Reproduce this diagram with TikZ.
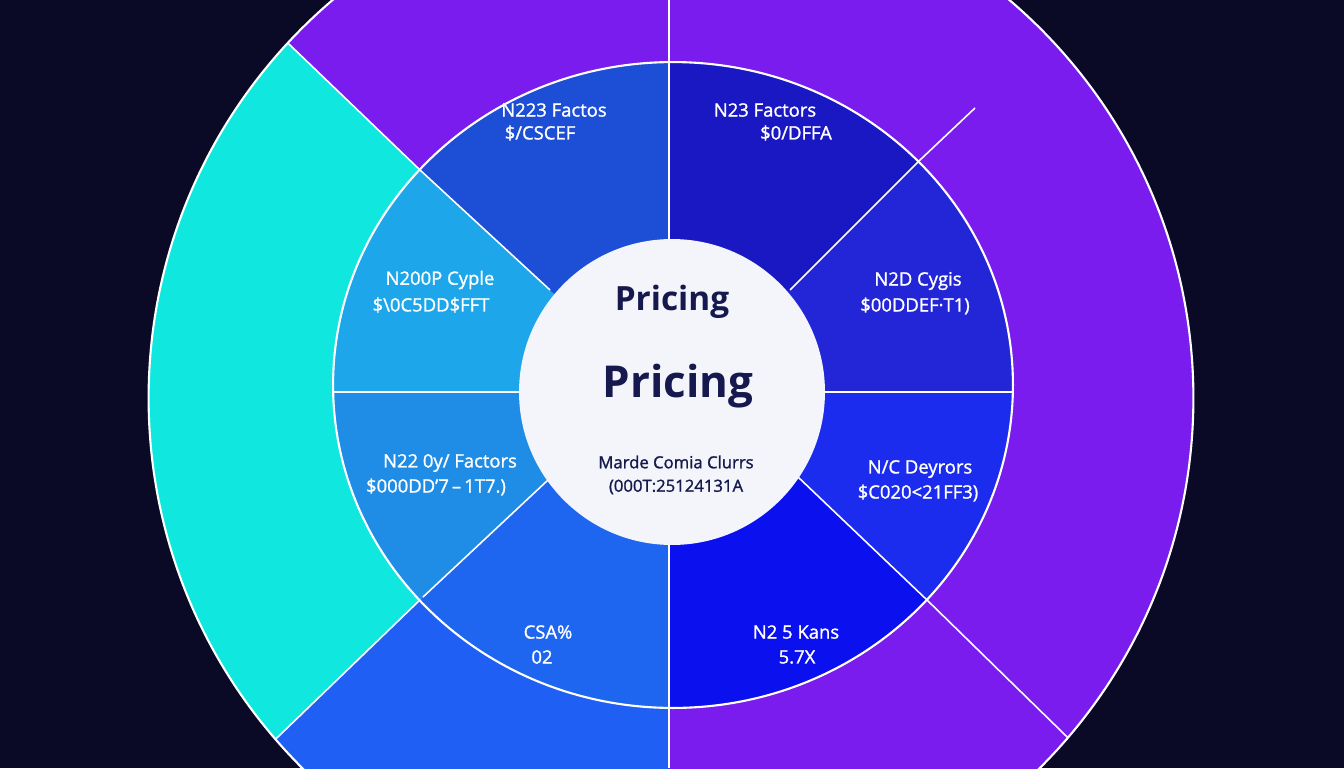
\documentclass[tikz,border=0pt]{standalone}
\usepackage{fontspec}
\setmainfont{Open Sans}
\newfontfamily\labelfont{Open Sans}[Ligatures=TeX, RawFeature={embolden=1.3}]
\usepackage{xcolor}
\usepackage{tikz}
\usetikzlibrary{calc, positioning}

\definecolor{bgnavy}{HTML}{0B0A26}
\definecolor{outpurple}{HTML}{7A1CEE}
\definecolor{outcyan}{HTML}{10E8DF}
\definecolor{outblue}{HTML}{1F5FF4}
\definecolor{segTL}{HTML}{1D4ED6}
\definecolor{segTR}{HTML}{1A18C2}
\definecolor{segRU}{HTML}{2326D6}
\definecolor{segRL}{HTML}{1C2CEE}
\definecolor{segBR}{HTML}{0A10EE}
\definecolor{segBL}{HTML}{1E66F0}
\definecolor{segLL}{HTML}{1F8CE6}
\definecolor{segLU}{HTML}{1DA6EA}
\definecolor{hubfill}{HTML}{F3F5FB}
\definecolor{hubtext}{HTML}{15194D}

\begin{document}
\begin{tikzpicture}[x=0.02cm, y=-0.02cm,
    seglabel/.style={text=white, inner sep=0pt, font=\labelfont\fontsize{10.5}{12}\selectfont},
    hubtitle/.style={text=hubtext, inner sep=0pt, font=\bfseries\fontsize{19}{22}\selectfont},
    hubnote/.style={text=hubtext, inner sep=0pt, font=\labelfont\fontsize{9.5}{11}\selectfont},
    divider/.style={draw=white, line width=0.9pt},
    rim/.style={draw=white, line width=1.2pt}
]
\fill[bgnavy] (0,0) rectangle (1344,768);
\useasboundingbox (0,0) rectangle (1344,768);

\coordinate (O) at (669,392);
\coordinate (ulIn) at (550,290); \coordinate (ulMid) at (420,170); \coordinate (ulOut) at (292,47);
\coordinate (urIn) at (790,290); \coordinate (urMid) at (920,160); \coordinate (urStub) at (975,108);
\coordinate (llIn) at (548,480); \coordinate (llMid) at (423,597); \coordinate (llOut) at (282,733);
\coordinate (lrIn) at (798,477); \coordinate (lrMid) at (927,600); \coordinate (lrOut) at (1060,730);
\coordinate (top) at (669,0); \coordinate (bot) at (669,768);
\coordinate (lft) at (333,392); \coordinate (rgt) at (1013,392);

% outer ring
\begin{scope}
\clip (671,398) circle [radius=10.45cm];
\fill[outpurple] (671,398) circle [radius=10.45cm];
\fill[outcyan] (ulMid) -- ($(ulMid)!6!(ulOut)$) -- (-700,392) -- ($(llMid)!6!(llOut)$) -- (llMid) -- cycle;
\fill[outblue] (O) -- (llMid) -- ($(llMid)!6!(llOut)$) -- (669,1500) -- cycle;
\draw[divider] (ulMid) -- ($(ulMid)!6!(ulOut)$);
\draw[divider] (llMid) -- ($(llMid)!6!(llOut)$);
\draw[divider] (lrMid) -- ($(lrMid)!6!(lrOut)$);
\draw[divider] (top) -- (bot);
\end{scope}
\draw[rim] (671,398) circle [radius=10.45cm];

% inner ring
\begin{scope}
\clip (673,385) ellipse [x radius=6.8cm, y radius=6.46cm];
\fill[segLU] (O) -- (ulIn) -- ($(ulIn)!6!(ulMid)$) -- (-700,392) -- cycle;
\fill[segTL] (O) -- (ulIn) -- ($(ulIn)!6!(ulMid)$) -- (669,-700) -- cycle;
\fill[segTR] (O) -- (669,-700) -- ($(urIn)!6!(urMid)$) -- (urIn) -- cycle;
\fill[segRU] (O) -- (urIn) -- ($(urIn)!6!(urMid)$) -- (2000,392) -- cycle;
\fill[segRL] (O) -- (2000,392) -- ($(lrIn)!6!(lrMid)$) -- (lrIn) -- cycle;
\fill[segBR] (O) -- (lrIn) -- ($(lrIn)!6!(lrMid)$) -- (669,1500) -- cycle;
\fill[segBL] (O) -- (669,1500) -- ($(llIn)!6!(llMid)$) -- (llIn) -- cycle;
\fill[segLL] (O) -- (llIn) -- ($(llIn)!6!(llMid)$) -- (-700,392) -- cycle;
\end{scope}
\draw[rim] (673,385) ellipse [x radius=6.8cm, y radius=6.46cm];

\draw[divider] (ulIn) -- (ulMid);
\draw[divider] (urIn) -- (urMid) -- (urStub);
\draw[divider] (llIn) -- (llMid);
\draw[divider] (lrIn) -- (lrMid);
\draw[divider] (lft) -- (rgt);
\draw[divider] (top) -- (bot);

% hub
\fill[hubfill] (672,392) circle [radius=3.06cm];
\node[hubtitle] (hubA) at (672,302) {Pricing};
\node[hubtitle, font=\bfseries\fontsize{25}{28}\selectfont] (hubB) at (678,386) {Pricing};
\node[hubnote] (hubC) at (676,462) {Marde Comia Clurrs};
\node[hubnote] (hubD) at (676,487) {(000T:25124131A};

% segment labels
\node[seglabel] (tlA) at (554,110) {N223 Factos};
\node[seglabel] (tlB) at (540,133) {\$/CSCEF};
\node[seglabel] (trA) at (765,110) {N23 Factors};
\node[seglabel] (trB) at (796,133) {\$0/DFFA};
\node[seglabel] (luA) at (440,280) {N200P Cyple};
\node[seglabel] (luB) at (431,305) {\$\textbackslash0C5DD\$FFT};
\node[seglabel] (llA) at (450,463) {N22 0y/ Factors};
\node[seglabel] (llB) at (436,487) {\$000DD'7\,\textendash\,1T7.)};
\node[seglabel] (ruA) at (918,281) {N2D Cygis};
\node[seglabel] (ruB) at (915,306) {\$00DDEF·T1)};
\node[seglabel] (rlA) at (920,469) {N/C Deyrors};
\node[seglabel] (rlB) at (918,493) {\$C020<21FF3)};
\node[seglabel] (blA) at (548,632) {CSA\%};
\node[seglabel] (blB) at (542,657) {02};
\node[seglabel] (brA) at (796,632) {N2 5 Kans};
\node[seglabel] (brB) at (797,657) {5.7X};
\end{tikzpicture}
\end{document}
